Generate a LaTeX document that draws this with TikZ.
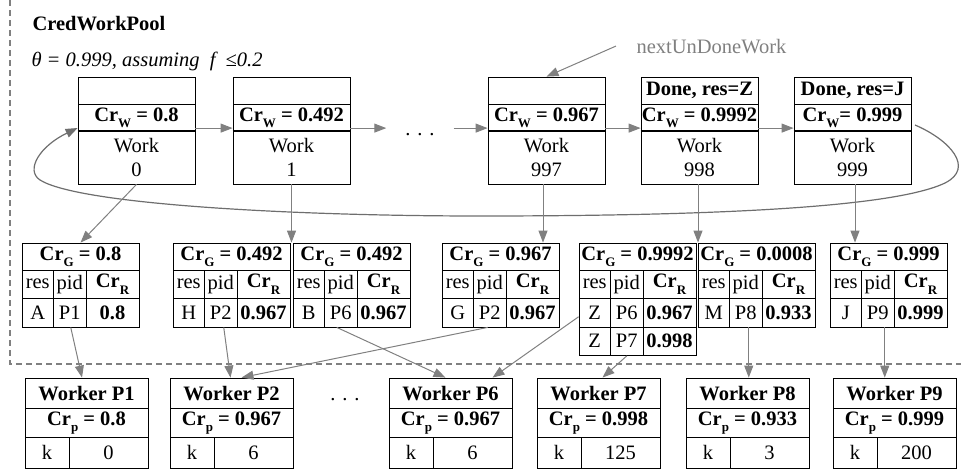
\documentclass[tikz,border=0pt]{standalone}
\usepackage{fontspec}
\setmainfont{Liberation Serif}
\usetikzlibrary{arrows.meta,calc}
\definecolor{conncol}{RGB}{128,128,128}
\definecolor{loopcol}{RGB}{110,110,110}
\newcommand\sbs[1]{\raisebox{-0.3em}{\fontsize{13}{13}\selectfont #1}}
\tikzset{
  cell/.style n args={2}{draw=black, line width=0.8pt, inner sep=0pt, minimum width=#1, minimum height=#2},
  conn/.style={draw=conncol, line width=1pt, -{Triangle[length=12pt,width=9pt]}},
  loopconn/.style={draw=loopcol, line width=1.2pt, -{Triangle[length=12pt,width=9pt]}},
  poolframe/.style={draw=conncol, line width=1.5pt, dash pattern=on 6pt off 4pt},
}
\newcommand\WorkBox[5]{%
  \node[cell={117pt}{27pt}] (#2t) at ({#1+58.5},90.5) {\bfseries #3};
  \node[cell={117pt}{27pt}] (#2c) at ({#1+58.5},117.5) {\bfseries #4};
  \node[cell={117pt}{53pt}, align=center] (#2w) at ({#1+58.5},157.5) {Work\\#5};
  \draw[line width=2pt] (#2c.south west) -- (#2c.south east);
}
\newcommand\TblRow[5]{%
  \node[cell={31.5pt}{28.5pt}] (#2r) at ({#1+15.75},#5) {#3};
  \node[cell={32.5pt}{28.5pt}] (#2p) at ({#1+47.75},#5) {#4};
}
\newcommand\Tbl[6]{%
  \node[cell={117pt}{27pt}] (#2g) at ({#1+58.5},256.5) {\bfseries #3};
  \node[cell={31.5pt}{28.5pt}] (#2h1) at ({#1+15.75},284.25) {res};
  \node[cell={32.5pt}{28.5pt}] (#2h2) at ({#1+47.75},284.25) {pid};
  \node[cell={53pt}{28.5pt}] (#2h3) at ({#1+90.5},284.25) {\bfseries Cr\sbs{R}};
  \node[cell={31.5pt}{28.5pt}] (#2r) at ({#1+15.75},312.75) {#4};
  \node[cell={32.5pt}{28.5pt}] (#2p) at ({#1+47.75},312.75) {#5};
  \node[cell={53pt}{28.5pt}] (#2v) at ({#1+90.5},312.75) {\bfseries #6};
}
\newcommand\Wkr[5]{%
  \node[cell={123pt}{30.5pt}] (#2a) at ({#1+61.5},393.25) {\bfseries #3};
  \node[cell={123pt}{29pt}] (#2b) at ({#1+61.5},423) {\bfseries #4};
  \node[cell={44pt}{30.5pt}] (#2k) at ({#1+22},452.75) {k};
  \node[cell={79pt}{30.5pt}] (#2v) at ({#1+83.5},452.75) {#5};
}
\begin{document}
\begin{tikzpicture}[x=1pt,y=-1pt,font=\fontsize{20.5}{24}\selectfont]
\useasboundingbox (0,0) rectangle (961,471);
\draw[poolframe] (10,0) -- (10,364) -- (961,364);

\node[anchor=base west] (title) at (29,30) {\bfseries CredWorkPool};
\node[anchor=base west] (theta) at (28,66) {\itshape θ = 0.999, assuming \ f \ ≤0.2};
\node[anchor=base west, text=conncol] (nud) at (633,53) {nextUnDoneWork};

% work boxes
\WorkBox{78}{w0}{}{Cr\sbs{W} = 0.8}{0}
\WorkBox{233}{w1}{}{Cr\sbs{W} = 0.492}{1}
\WorkBox{488}{w997}{}{Cr\sbs{W} = 0.967}{997}
\WorkBox{641}{w998}{Done, res=Z}{Cr\sbs{W} = 0.9992}{998}
\WorkBox{794}{w999}{Done, res=J}{Cr\sbs{W}= 0.999}{999}

\node[anchor=base, inner xsep=19pt] (dt) at (420,135) {. . .};
\draw[conn] ([yshift=3.3pt]w0c.south east) -- ([yshift=3.3pt]w1c.south west);
\draw[conn] ([yshift=3.3pt]w1c.south east) -- ([yshift=3.3pt]w1c.south east -| dt.west);
\draw[conn] ([yshift=3.3pt]w997c.south west -| dt.east) -- ([yshift=3.3pt]w997c.south west);
\draw[conn] ([yshift=3.3pt]w997c.south east) -- ([yshift=3.3pt]w998c.south west);
\draw[conn] ([yshift=3.3pt]w998c.south east) -- ([yshift=3.3pt]w999c.south west);

\draw[conn] (nud.west) ++(-17pt,0) -- ([xshift=0pt]w997t.north);

% loop back
\coordinate (ls) at (915,125);
\draw[loopconn] (ls) .. controls (950,140) and (975,168) .. (945,183)
  .. controls (895,207) and (720,216) .. (480,216)
  .. controls (300,216) and (80,205) .. (40,180)
  .. controls (25,170) and (40,146) .. ([yshift=-10.5pt]w0c.west);

% tables
\Tbl{22}{tA}{Cr\sbs{G} = 0.8}{A}{P1}{0.8}
\Tbl{173}{tH}{Cr\sbs{G} = 0.492}{H}{P2}{0.967}
\Tbl{293}{tB}{Cr\sbs{G} = 0.492}{B}{P6}{0.967}
\Tbl{442}{tG}{Cr\sbs{G} = 0.967}{G}{P2}{0.967}
\Tbl{579}{tZ}{Cr\sbs{G} = 0.9992}{Z}{P6}{0.967}
\Tbl{698}{tM}{Cr\sbs{G} = 0.0008}{M}{P8}{0.933}
\Tbl{830}{tJ}{Cr\sbs{G} = 0.999}{J}{P9}{0.999}
\node[cell={31.5pt}{28.5pt}] (tZ2r) at ({579+15.75},341.25) {Z};
\node[cell={32.5pt}{28.5pt}] (tZ2p) at ({579+47.75},341.25) {P7};
\node[cell={53pt}{28.5pt}] (tZ2v) at ({579+90.5},341.25) {\bfseries 0.998};

% work -> tables
\draw[conn] (w0w.south) -- (tAg.north);
\draw[conn] (w1w.south) -- (w1w.south |- tHg.north);
\draw[conn] ([xshift=-3.5pt]w997w.south) -- ([xshift=-3.5pt]w997w.south |- tGg.north);
\draw[conn] ([xshift=-1.5pt]w998w.south) -- ([xshift=-1.5pt]w998w.south |- tZg.north);
\draw[conn] ([xshift=2.5pt]w999w.south) -- ([xshift=2.5pt]w999w.south |- tJg.north);

% workers
\Wkr{25}{wP1}{Worker P1}{Cr\sbs{p} = 0.8}{0}
\Wkr{170}{wP2}{Worker P2}{Cr\sbs{p} = 0.967}{6}
\Wkr{389}{wP6}{Worker P6}{Cr\sbs{p} = 0.967}{6}
\Wkr{537}{wP7}{Worker P7}{Cr\sbs{p} = 0.998}{125}
\Wkr{686}{wP8}{Worker P8}{Cr\sbs{p} = 0.933}{3}
\Wkr{833}{wP9}{Worker P9}{Cr\sbs{p} = 0.999}{200}
\node[anchor=base] (db) at (345,400) {. . .};

% tables -> workers
\draw[conn] ([xshift=1pt]tAp.south) -- ([xshift=-4.5pt]wP1a.north);
\draw[conn] ([xshift=3pt]tHp.south) -- ([xshift=-1pt]wP2a.north);
\draw[conn] ([xshift=-2pt]tGp.south) -- ([xshift=10pt]wP2a.north);
\draw[conn] ([xshift=-4pt]tBp.south) -- ([xshift=-5pt]wP6a.north);
\draw[conn] ([yshift=-4pt]tZr.west) -- ([xshift=42pt]wP6a.north);
\draw[conn] (tZ2p.south) -- ([xshift=4pt]wP7a.north);
\draw[conn] ([xshift=3pt]tMp.south) -- ([xshift=3pt]tMp.south |- wP8a.north);
\draw[conn] ([xshift=7pt]tJp.south) -- ([xshift=7pt]tJp.south |- wP9a.north);
\end{tikzpicture}
\end{document}
